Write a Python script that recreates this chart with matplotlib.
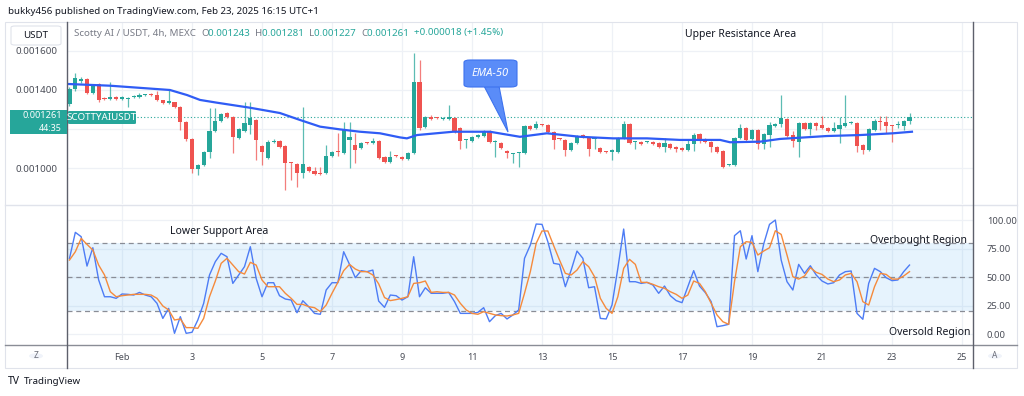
import numpy as np
import matplotlib.pyplot as plt
from matplotlib.patches import Rectangle, FancyBboxPatch, Polygon, Circle
from matplotlib.lines import Line2D

plt.rcParams['font.family'] = ['Noto Sans', 'DejaVu Sans']

W, H = 1024, 396

# ---- data: 4h candles, prices in 1e-6 USDT ----
opens = [1328, 1405, 1446, 1456, 1385, 1431, 1361, 1354, 1364, 1354,
         1356, 1364, 1364, 1372, 1377, 1374, 1349, 1333, 1338, 1313,
         1236, 1149, 995, 1015, 1082, 1189, 1241, 1282, 1262, 1154,
         1189, 1221, 1246, 1113, 1051, 1133, 1138, 1113, 1028, 1021,
         974, 1005, 985, 971, 974, 1062, 1087, 1077, 1144, 1118,
         1102, 1130, 1128, 1138, 1056, 1031, 1064, 1056, 1046, 1077,
         1441, 1210, 1262, 1258, 1251, 1251, 1256, 1205, 1142, 1138,
         1159, 1164, 1189, 1134, 1128, 1087, 1070, 1075, 1077, 1215,
         1205, 1223, 1221, 1185, 1151, 1144, 1092, 1128, 1169, 1154,
         1147, 1102, 1084, 1082, 1082, 1154, 1226, 1131, 1133, 1131,
         1133, 1128, 1108, 1123, 1108, 1102, 1092, 1123, 1174, 1149,
         1133, 1108, 1087, 1013, 1015, 1154, 1205, 1149, 1195, 1123,
         1169, 1215, 1226, 1251, 1169, 1133, 1231, 1200, 1231, 1221,
         1205, 1192, 1200, 1215, 1229, 1231, 1118, 1092, 1195, 1238,
         1236, 1217, 1219, 1215, 1243]
highs = [1415, 1487, 1467, 1461, 1431, 1436, 1364, 1441, 1367, 1367,
         1364, 1372, 1385, 1380, 1385, 1395, 1351, 1405, 1341, 1318,
         1241, 1154, 1021, 1087, 1308, 1308, 1282, 1287, 1267, 1205,
         1338, 1338, 1251, 1118, 1144, 1149, 1144, 1118, 1032, 1026,
         1313, 1010, 1005, 1005, 1118, 1087, 1179, 1236, 1236, 1179,
         1133, 1133, 1154, 1144, 1062, 1087, 1067, 1062, 1082, 1590,
         1554, 1267, 1272, 1262, 1262, 1323, 1262, 1210, 1149, 1164,
         1174, 1195, 1195, 1144, 1133, 1092, 1077, 1082, 1221, 1221,
         1241, 1226, 1226, 1189, 1154, 1149, 1133, 1169, 1174, 1159,
         1154, 1108, 1087, 1097, 1159, 1241, 1231, 1138, 1138, 1138,
         1138, 1133, 1154, 1128, 1113, 1108, 1144, 1179, 1179, 1154,
         1138, 1113, 1092, 1021, 1159, 1226, 1210, 1200, 1200, 1179,
         1236, 1231, 1374, 1256, 1189, 1236, 1236, 1236, 1236, 1267,
         1210, 1236, 1262, 1374, 1241, 1236, 1123, 1205, 1251, 1267,
         1267, 1221, 1241, 1246, 1281]
lows = [1318, 1395, 1436, 1380, 1380, 1338, 1349, 1349, 1349, 1351,
        1313, 1359, 1359, 1369, 1369, 1344, 1328, 1330, 1308, 1195,
        1138, 974, 964, 1010, 1051, 1184, 1236, 1256, 1077, 1149,
        1184, 1174, 1041, 1015, 1046, 1128, 1102, 887, 938, 902,
        949, 979, 964, 964, 969, 1056, 1062, 1072, 1000, 1026,
        1097, 1123, 1123, 1046, 1026, 1026, 1056, 1041, 1041, 1072,
        1195, 1205, 1246, 1251, 1246, 1246, 1179, 1097, 1102, 1133,
        1154, 1159, 1128, 1056, 1097, 1051, 1026, 1005, 1072, 1195,
        1200, 1215, 1179, 1097, 1144, 1062, 1087, 1123, 1154, 1062,
        1097, 1077, 1077, 1041, 1077, 1149, 1123, 1097, 1118, 1128,
        1118, 1102, 1082, 1097, 1082, 1087, 1087, 1087, 1128, 1128,
        1082, 1077, 1000, 1010, 1010, 1149, 1138, 1144, 1097, 1097,
        1108, 1210, 1210, 1159, 1108, 1056, 1195, 1169, 1195, 1200,
        1184, 1184, 1128, 1210, 1226, 1082, 1072, 1087, 1189, 1195,
        1179, 1133, 1205, 1195, 1227]
closes = [1405, 1461, 1456, 1385, 1426, 1349, 1353, 1364, 1354, 1362,
          1361, 1369, 1374, 1375, 1374, 1349, 1333, 1344, 1313, 1236,
          1149, 995, 1015, 1082, 1189, 1241, 1277, 1262, 1159, 1200,
          1231, 1256, 1144, 1082, 1133, 1136, 1108, 1026, 1024, 974,
          1021, 985, 969, 967, 1062, 1082, 1082, 1200, 1159, 1092,
          1128, 1126, 1138, 1051, 1031, 1056, 1060, 1046, 1077, 1441,
          1205, 1262, 1251, 1254, 1258, 1262, 1185, 1138, 1146, 1159,
          1169, 1189, 1133, 1137, 1102, 1077, 1074, 1079, 1215, 1200,
          1226, 1219, 1185, 1144, 1147, 1092, 1128, 1164, 1159, 1097,
          1151, 1082, 1080, 1092, 1154, 1226, 1128, 1135, 1123, 1135,
          1123, 1108, 1128, 1102, 1097, 1092, 1123, 1169, 1144, 1133,
          1108, 1082, 1005, 1017, 1154, 1205, 1144, 1195, 1123, 1174,
          1221, 1226, 1256, 1164, 1138, 1231, 1200, 1231, 1215, 1205,
          1189, 1205, 1221, 1231, 1233, 1113, 1092, 1200, 1241, 1234,
          1215, 1213, 1223, 1241, 1261]

rsi = [66.4, 89.2, 85.4, 59.6, 75.7, 47.4, 32.7, 32.7, 31.3, 35.1,
       34.8, 34.2, 36.5, 34.2, 32.7, 26.9, 13.7, 22.5, 0.6, 15.2,
       0.6, 1.5, 12.3, 26.9, 51.8, 63.5, 70.8, 67.8, 44.4, 51.8,
       59.1, 76.6, 48.8, 32.7, 45.0, 45.0, 33.6, 30.7, 29.8, 18.7,
       29.2, 24.0, 18.1, 17.3, 38.6, 45.0, 45.0, 72.2, 61.1, 49.4,
       55.6, 54.7, 56.1, 28.9, 23.4, 34.2, 33.6, 29.8, 32.7, 67.8,
       32.7, 40.6, 35.7, 35.7, 35.7, 36.5, 28.4, 18.1, 18.1, 18.1,
       19.0, 23.1, 10.8, 16.1, 18.1, 13.2, 16.7, 21.1, 66.4, 78.1,
       96.5, 96.2, 81.0, 62.0, 61.1, 41.5, 56.1, 72.8, 66.4, 40.6,
       41.5, 13.7, 13.2, 25.4, 57.6, 92.1, 45.9, 45.9, 44.4, 45.3,
       43.0, 35.7, 42.1, 33.6, 29.3, 27.5, 41.5, 55.6, 42.1, 36.3,
       28.4, 6.4, 7.3, 8.5, 86.3, 90.6, 65.8, 86.3, 54.7, 78.9,
       96.2, 100.0, 64.9, 45.9, 38.6, 61.1, 53.2, 59.9, 51.8, 46.5,
       43.9, 45.0, 51.8, 54.7, 55.3, 18.1, 12.9, 44.4, 57.6, 54.7,
       49.4, 46.8, 47.4, 54.7, 60.5]
rsi_ma = [64.9, 72.2, 83.9, 78.6, 73.7, 60.5, 51.8, 37.1, 32.7, 33.6,
          34.2, 34.8, 34.8, 34.8, 34.2, 31.3, 24.6, 21.1, 12.3, 13.2,
          5.6, 5.6, 5.0, 13.7, 32.7, 46.5, 62.0, 66.4, 60.5, 54.7,
          52.6, 62.9, 60.5, 47.4, 41.5, 41.5, 41.5, 35.7, 31.3, 26.0,
          26.0, 24.0, 23.1, 19.6, 25.4, 35.7, 45.3, 55.6, 61.1, 57.0,
          54.7, 54.7, 51.8, 44.0, 32.0, 29.3, 30.2, 31.3, 32.7, 44.4,
          45.0, 46.5, 36.5, 37.1, 36.5, 36.5, 34.2, 26.9, 21.1, 18.1,
          17.3, 19.6, 18.1, 16.7, 16.1, 15.8, 16.7, 18.1, 35.7, 54.7,
          79.5, 90.4, 90.4, 77.5, 64.9, 53.2, 51.8, 56.1, 63.5, 59.1,
          50.3, 31.3, 22.5, 18.1, 32.7, 57.6, 65.5, 61.1, 45.3, 45.3,
          43.6, 41.5, 40.1, 37.1, 34.8, 31.3, 34.2, 46.5, 44.4, 37.1,
          26.9, 16.7, 10.8, 8.5, 45.9, 76.6, 81.0, 80.4, 69.3, 72.8,
          75.7, 90.6, 87.4, 69.3, 50.3, 48.2, 50.9, 58.2, 54.1, 52.3,
          48.2, 45.9, 47.4, 51.8, 53.2, 45.9, 28.4, 25.4, 41.5, 53.2,
          52.3, 48.2, 48.2, 50.9, 54.7]

# EMA-50 read at points (days after Feb 1, price 1e-6)
ema_day = [-1.57, -0.34, 1.37, 1.86, 2.23, 2.71, 3.66, 4.51, 5.09, 5.66,
           6.23, 6.80, 7.37, 7.94, 8.14, 8.43, 9.46, 10.51, 11.37, 12.14,
           13.09, 14.03, 15.0, 15.94, 17.09, 17.37, 18.23, 18.80, 20.14,
           21.09, 22.03, 22.57]
ema_val = [1431, 1422, 1400, 1374, 1349, 1335, 1309, 1282, 1246, 1212,
           1198, 1186, 1178, 1157, 1152, 1169, 1186, 1186, 1160, 1178,
           1160, 1152, 1152, 1144, 1144, 1132, 1135, 1149, 1164,
           1169, 1178, 1186]

first_candle = -1.5          # Jan 30 12:00, days relative to Feb 1
date_ticks = list(range(0, 25, 2))
date_labels = ['Feb', '3', '5', '7', '9', '11', '13', '15', '17', '19', '21', '23', '25']
price_ticks = [1000, 1200, 1400, 1600]
price_labels = ['0.001000', '', '0.001400', '0.001600']   # 0.001200 sits under the price tag
rsi_ticks = [0, 25, 50, 75, 100]
last_ohlc = [1243, 1281, 1227, 1261]
last_chg, last_pct = 18, 1.45

green, red = '#26a69a', '#ef5350'
grid_c = '#eef1f6'
dark = '#131722'
grey = '#787b86'


def fx(x):
    return x / W


def fy(y):
    return 1 - y / H


def box(x0, y0, x1, y1):
    return [x0 / W, 1 - y1 / H, (x1 - x0) / W, (y1 - y0) / H]


fig = plt.figure(figsize=(W / 100, H / 100), dpi=100)

o = np.array(opens) * 1e-6
h = np.array(highs) * 1e-6
l = np.array(lows) * 1e-6
c = np.array(closes) * 1e-6
t = first_candle + np.arange(len(o)) / 6

# ---- price pane ----
ax1 = fig.add_axes(box(67, 22, 973, 204))
ax1.set_xlim(-1.5714, 24.314)
ax1.set_ylim(815.4e-6, 1748.7e-6)
for s in ax1.spines.values():
    s.set_visible(False)
ax1.set_xticks(date_ticks)
ax1.set_yticks(np.array(price_ticks) * 1e-6)
ax1.set_yticklabels(price_labels)
ax1.tick_params(axis='x', length=0, labelbottom=False)
ax1.tick_params(axis='y', length=0, pad=7, labelsize=7, labelcolor='#4a4d57')
ax1.grid(True, color=grid_c, lw=0.9)
ax1.set_axisbelow(True)

up = c >= o
cols = np.where(up, green, red)
ax1.vlines(t, l, h, colors=cols, lw=0.9, alpha=0.75, zorder=2)
bh = np.maximum(np.abs(c - o), 5e-6)
ax1.bar(t, bh, bottom=np.minimum(o, c), width=0.115, color=cols, edgecolor='none', zorder=3)
ax1.plot(np.array(ema_day), np.array(ema_val) * 1e-6, color='#2f5cf5', lw=1.6, zorder=4)
ax1.axhline(last_ohlc[3] * 1e-6, xmin=(137 - 67) / 906, color=green, lw=0.8,
            ls=(0, (1, 2)), zorder=1)

# ---- RSI pane ----
ax2 = fig.add_axes(box(67, 205, 973, 345))
ax2.set_xlim(-1.5714, 24.314)
ax2.set_ylim(-9.65, 113.2)
for s in ax2.spines.values():
    s.set_visible(False)
ax2.axhspan(20, 80, color='#2196f3', alpha=0.11, lw=0)
for lv in (80, 50, 20):
    ax2.axhline(lv, color='#8a8d96', lw=0.9, ls=(0, (4, 3)))
ax2.plot(t, rsi, color='#4d7cf5', lw=1.0, zorder=3)
ax2.plot(t, rsi_ma, color='#f58a3c', lw=1.0, zorder=3)
ax2.yaxis.tick_right()
ax2.set_yticks(rsi_ticks)
ax2.set_yticklabels([f"{v:.2f}" for v in rsi_ticks])
ax2.set_xticks(date_ticks)
ax2.set_xticklabels(date_labels)
ax2.tick_params(axis='y', length=0, pad=10, labelsize=6.8, labelcolor='#4a4d57')
ax2.tick_params(axis='x', length=0, pad=6, labelsize=6.5, labelcolor='#4a4d57')
ax2.grid(True, color=grid_c, lw=0.9)
ax2.set_axisbelow(True)

# ---- frame lines ----
fig.add_artist(Rectangle((fx(5), fy(368)), 1012 / W, 346 / H, transform=fig.transFigure,
                         fill=False, ec='#e0e3eb', lw=0.8))
fig.add_artist(Line2D([fx(5), fx(1017)], [fy(204.5)] * 2, color='#e0e3eb', lw=1))
fig.add_artist(Line2D([fx(5), fx(1017)], [fy(345)] * 2, color='#8a8d96', lw=1))
fig.add_artist(Line2D([fx(67)] * 2, [fy(22), fy(368)], color='#5d606b', lw=1))
fig.add_artist(Line2D([fx(973)] * 2, [fy(22), fy(368)], color='#5d606b', lw=1))

# ---- header texts ----
fig.text(fx(8), fy(12), "bukky456 published on TradingView.com, Feb 23, 2025 16:15 UTC+1",
         fontsize=7, color=dark, va='center')
fig.add_artist(FancyBboxPatch((fx(11), fy(45)), 50 / W, 19 / H, transform=fig.transFigure,
                              boxstyle='round,pad=0,rounding_size=0.004', fc='white',
                              ec='#e0e3eb', lw=0.8))
fig.text(fx(36), fy(35), "USDT", fontsize=7, color=dark, ha='center', va='center')

r = fig.canvas.get_renderer()
parts = [("Scotty AI / USDT, 4h, MEXC  ", grey),
         ("O", grey), (f"{last_ohlc[0] * 1e-6:.6f}  ", green),
         ("H", grey), (f"{last_ohlc[1] * 1e-6:.6f}  ", green),
         ("L", grey), (f"{last_ohlc[2] * 1e-6:.6f}  ", green),
         ("C", grey), (f"{last_ohlc[3] * 1e-6:.6f}  ", green),
         (f"+{last_chg * 1e-6:.6f} (+{last_pct:.2f}%)", green)]
xp = 74
for s, col in parts:
    tt = fig.text(fx(xp), fy(33), s, fontsize=7, color=col, va='center')
    xp = tt.get_window_extent(r).x1

# ---- annotations ----
fig.text(fx(741), fy(34), "Upper Resistance Area", fontsize=7.5, color=dark, ha='center', va='center')
fig.text(fx(219), fy(231), "Lower Support Area", fontsize=7.5, color=dark, ha='center', va='center')
fig.text(fx(918), fy(241), "Overbought Region", fontsize=7.5, color=dark, ha='center', va='center')
fig.text(fx(930), fy(333), "Oversold Region", fontsize=7.5, color=dark, ha='center', va='center')

# EMA-50 callout
fig.add_artist(Polygon([(fx(484), fy(86)), (fx(499), fy(86)), (fx(508), fy(132))],
                       closed=True, transform=fig.transFigure, fc='#5a8cf8', ec='#3d72ee', lw=0.8))
fig.add_artist(FancyBboxPatch((fx(464), fy(87)), 53 / W, 27 / H, transform=fig.transFigure,
                              boxstyle='round,pad=0,rounding_size=0.006', fc='#5a8cf8',
                              ec='#3d72ee', lw=0.8))
fig.text(fx(490), fy(73.5), "EMA-50", fontsize=8, style='italic', color='white',
         ha='center', va='center')

# current price labels
fig.add_artist(Rectangle((fx(10), fy(134)), 57 / W, 24 / H, transform=fig.transFigure,
                         fc=green, ec='none', zorder=5))
fig.text(fx(62), fy(116), f"{last_ohlc[3] * 1e-6:.6f}", fontsize=6.6, color='white',
         ha='right', va='center', fontweight='bold', zorder=6)
fig.text(fx(62), fy(128), "44:35", fontsize=6.4, color='white', ha='right', va='center', zorder=6)
fig.add_artist(FancyBboxPatch((fx(68), fy(124)), 68 / W, 13 / H, transform=fig.transFigure,
                              boxstyle='round,pad=0,rounding_size=0.002', fc=green, ec='none', zorder=5))
fig.text(fx(102), fy(117.5), "SCOTTYAIUSDT", fontsize=7, color='white', ha='center',
         va='center', zorder=6)

# Z / A buttons
for xc, s in ((36, "Z"), (995, "A")):
    fig.add_artist(Circle((fx(xc), fy(356)), 7 / W, transform=fig.transFigure,
                          fc='#f0f3fa', ec='none'))
    fig.text(fx(xc), fy(356), s, fontsize=6, color='#6a6d78', ha='center', va='center')

# footer logo
fig.text(fx(8), fy(381), "TV", fontsize=7.5, fontweight='heavy', color=dark, va='center')
fig.text(fx(24), fy(381), "TradingView", fontsize=7, color=dark, va='center')

fig.savefig("out.png", dpi=100, facecolor='white')
